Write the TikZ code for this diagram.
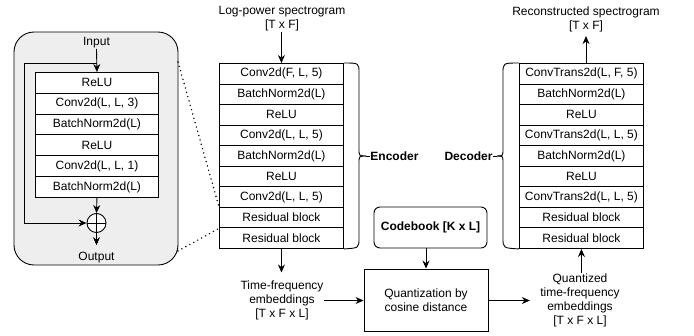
\documentclass[tikz,border=0pt]{standalone}
\usepackage{fontspec}
\setmainfont{Liberation Sans}
\usetikzlibrary{arrows.meta,calc}
\definecolor{panelgray}{HTML}{EEEEEE}
\begin{document}
\begin{tikzpicture}[x=1pt,y=-1pt,line width=0.9pt,
  every node/.style={font=\fontsize{12}{14}\selectfont, inner sep=0pt, align=center},
  layer/.style={draw, fill=white, minimum width=124pt, minimum height=20.56pt, anchor=north west},
  reslayer/.style={draw, fill=white, minimum width=123pt, minimum height=20.83pt, anchor=north west},
  arr/.style={-{Stealth[length=8pt,width=7pt]}},
  dotlink/.style={line width=1.6pt, dash pattern=on 0pt off 4.5pt, line cap=round},
  boldlabel/.style={font=\fontsize{12}{14}\selectfont\bfseries}]
\useasboundingbox (0,0) rectangle (694,335);

% ---- residual block detail ----
\node[draw, fill=panelgray, rounded corners=20pt, minimum width=164pt, minimum height=233pt] (panel) at (96,148.5) {};
\foreach \t [count=\i] in {{ReLU},{Conv2d(L, L, 3)},{BatchNorm2d(L)},{ReLU},{Conv2d(L, L, 1)},{BatchNorm2d(L)}}
  \node[reslayer] (r\i) at (35,{72+20.83*(\i-1)}) {\t};
\node (inp) at (96.5,43) {Input};
\node (outp) at (96.5,258) {Output};
\node[draw, circle, fill=white, minimum size=19pt] (sum) at (96.5,223) {};
\draw (sum.north) -- (sum.south);
\draw (sum.west) -- (sum.east);
\coordinate (split) at (96.5,63);
\draw[arr] (inp.south) -- (r1.north);
\draw[arr] (split) -- (24,63) |- (sum.west);
\draw[arr] (r6.south) -- (sum.north);
\draw[arr, shorten >=7pt] (sum.south) -- (outp.north);

% ---- encoder ----
\foreach \t [count=\i] in {{Conv2d(F, L, 5)},{BatchNorm2d(L)},{ReLU},{Conv2d(L, L, 5)},{BatchNorm2d(L)},{ReLU},{Conv2d(L, L, 5)},{Residual block},{Residual block}}
  \node[layer] (e\i) at (219,{63+20.56*(\i-1)}) {\t};
\node (inspec) at (282,19) {Log-power spectrogram\\{}[T x F]};
\draw[arr] (e1.north |- inspec.south) -- (e1.north);

\coordinate (etip) at (366,156);
\draw (e1.north east) .. controls (359,63) .. (359,73) -- (359,149) .. controls (359,156) .. (etip);
\draw (e9.south east) .. controls (359,248) .. (359,238) -- (359,163) .. controls (359,156) .. (etip);
\node[boldlabel, anchor=west] (enc) at (370,156) {Encoder};
\draw (etip) -- (enc.west);

% links from the detail panel to the residual block
\coordinate (pc1) at (178,62);
\coordinate (pc2) at (178,251);
\draw[dotlink] (pc1) -- (e8.north west);
\draw[dotlink] (pc2) -- (e8.south west);

% ---- decoder ----
\foreach \t [count=\i] in {{ConvTrans2d(L, F, 5)},{BatchNorm2d(L)},{ReLU},{ConvTrans2d(L, L, 5)},{BatchNorm2d(L)},{ReLU},{ConvTrans2d(L, L, 5)},{Residual block},{Residual block}}
  \node[layer] (d\i) at (519,{63+20.56*(\i-1)}) {\t};
\node (outspec) at (586,19) {Reconstructed spectrogram\\{}[T x F]};
\draw[arr, shorten >=4pt] (outspec.south |- d1.north) -- (outspec.south);

\coordinate (dtip) at (497,156);
\draw (d1.north west) .. controls (503,63) .. (503,73) -- (503,149) .. controls (503,156) .. (dtip);
\draw (d9.south west) .. controls (503,248) .. (503,238) -- (503,163) .. controls (503,156) .. (dtip);
\node[boldlabel, anchor=east] (dec) at (493,156) {Decoder};
\draw (dtip) -- (dec.east);

% ---- quantization ----
\node[draw, rounded corners=6pt, minimum width=113pt, minimum height=41pt, boldlabel] (cb) at (430.5,227.5) {Codebook [K x L]};
\node[draw, minimum width=124pt, minimum height=62pt] (q) at (426,300) {Quantization by\\cosine distance};
\node (tf) at (282,300.5) {Time-frequency\\embeddings\\{}[T x F x L]};
\node (qt) at (580,300.5) {Quantized\\time-frequency\\embeddings\\{}[T x F x L]};

\draw[arr, shorten >=8pt] (e9.south) -- (e9.south |- tf.north);
\draw[arr] (tf.east) -- (tf.east -| q.west);
\draw[arr] (q.north |- cb.south) -- (q.north);
\draw[arr, shorten >=10pt] (q.east |- qt.west) -- (qt.west);
\draw[arr] (d9.south |- qt.north) -- (d9.south);
\end{tikzpicture}
\end{document}
